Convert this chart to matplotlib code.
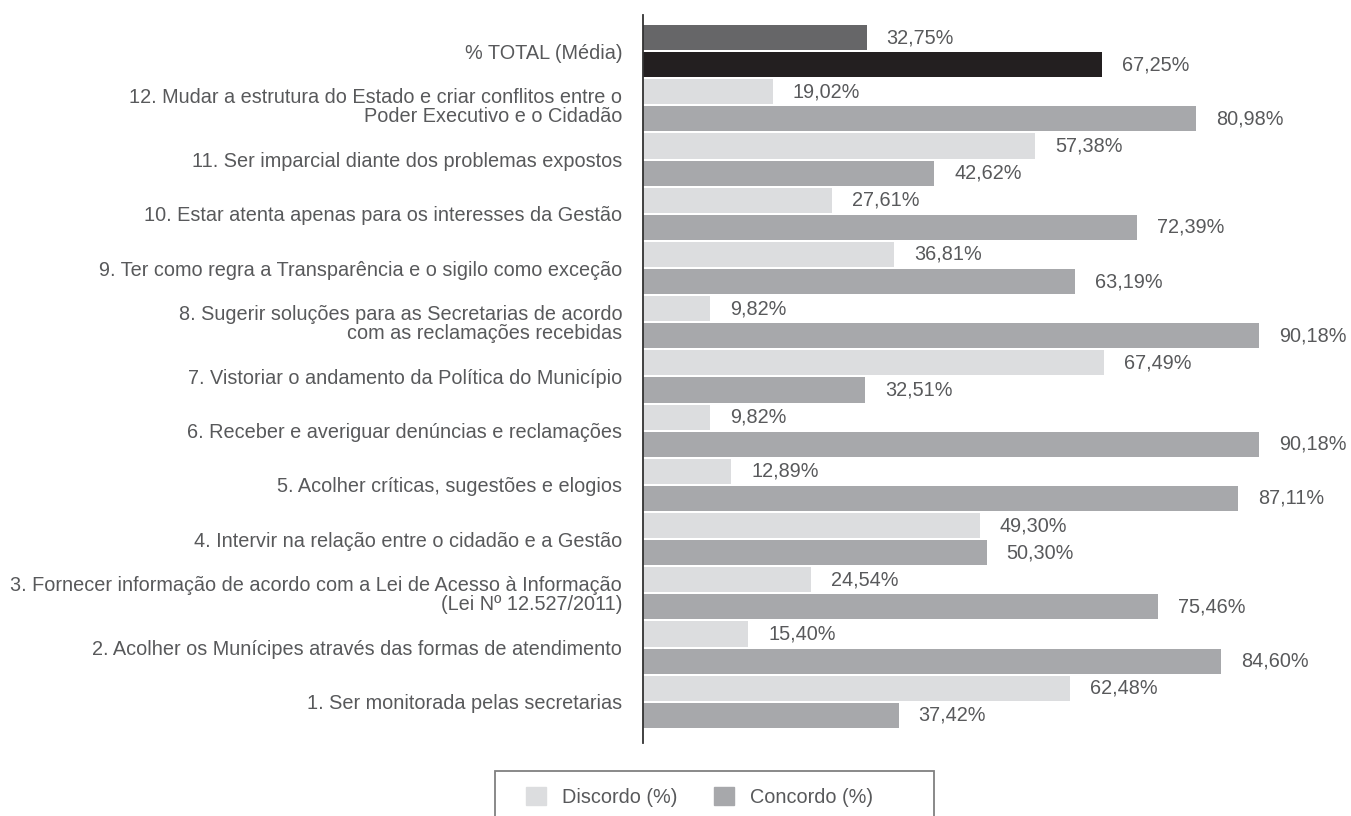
import matplotlib.pyplot as plt
from matplotlib.patches import Patch, Rectangle

plt.rcParams['font.family'] = ['Liberation Sans', 'DejaVu Sans']

labels = [
    "% TOTAL (Média)",
    "12. Mudar a estrutura do Estado e criar conflitos entre o\nPoder Executivo e o Cidadão",
    "11. Ser imparcial diante dos problemas expostos",
    "10. Estar atenta apenas para os interesses da Gestão",
    "9. Ter como regra a Transparência e o sigilo como exceção",
    "8. Sugerir soluções para as Secretarias de acordo\ncom as reclamações recebidas",
    "7. Vistoriar o andamento da Política do Município",
    "6. Receber e averiguar denúncias e reclamações",
    "5. Acolher críticas, sugestões e elogios",
    "4. Intervir na relação entre o cidadão e a Gestão",
    "3. Fornecer informação de acordo com a Lei de Acesso à Informação\n(Lei Nº 12.527/2011)",
    "2. Acolher os Munícipes através das formas de atendimento",
    "1. Ser monitorada pelas secretarias",
]
discordo = [32.75, 19.02, 57.38, 27.61, 36.81, 9.82, 67.49, 9.82, 12.89, 49.30, 24.54, 15.40, 62.48]
concordo = [67.25, 80.98, 42.62, 72.39, 63.19, 90.18, 32.51, 90.18, 87.11, 50.30, 75.46, 84.60, 37.42]

c_disc = "#dcdddf"
c_conc = "#a7a8ab"
c_tot_disc = "#666668"
c_tot_conc = "#231f20"
txt = "#58595b"

fig = plt.figure(figsize=(13.51, 8.16), dpi=100)
ax = fig.add_axes([643 / 1351, 1 - 743 / 816, 1 - 643 / 1351, (743 - 15) / 816])

h = 25 / 27
for i, (d, c) in enumerate(zip(discordo, concordo)):
    cd = c_tot_disc if i == 0 else c_disc
    cc = c_tot_conc if i == 0 else c_conc
    ax.barh(2 * i, d, height=h, color=cd)
    ax.barh(2 * i + 1, c, height=h, color=cc)
    for pos, v in ((2 * i, d), (2 * i + 1, c)):
        ax.annotate(f"{v:.2f}%".replace(".", ","), (v, pos), xytext=(14.4, 0),
                    textcoords="offset points", va="center", ha="left",
                    fontsize=14.3, color=txt)

ax.set_yticks([2 * i + 0.5 for i in range(len(labels))])
ax.set_yticklabels(labels, fontsize=14.3, color=txt, linespacing=0.95)
ax.tick_params(axis="y", length=0, pad=15)
ax.set_xticks([])
ax.set_xlim(0, (1351 - 643) / 6.83)
ax.set_ylim(25 + 27.5 / 27, -22.5 / 27)
for s in ("top", "right", "bottom"):
    ax.spines[s].set_visible(False)
ax.spines["left"].set_color("#333333")
ax.spines["left"].set_linewidth(1.3)

# legend frame runs off the bottom edge
fig.patches.append(Rectangle((495 / 1351, -0.02), (934 - 495) / 1351, 1 - 771 / 816 + 0.02,
                             transform=fig.transFigure, fill=False,
                             edgecolor="#808080", linewidth=1.3))
handles = [Patch(color=c_disc, label="Discordo (%)"), Patch(color=c_conc, label="Concordo (%)")]
fig.legend(handles=handles, loc="center", bbox_to_anchor=(699.5 / 1351, 1 - 797 / 816),
           ncol=2, frameon=False, fontsize=14.3, labelcolor=txt,
           handlelength=1.0, handleheight=1.0, handletextpad=0.8, columnspacing=1.85)

fig.savefig("out.png", dpi=100)
